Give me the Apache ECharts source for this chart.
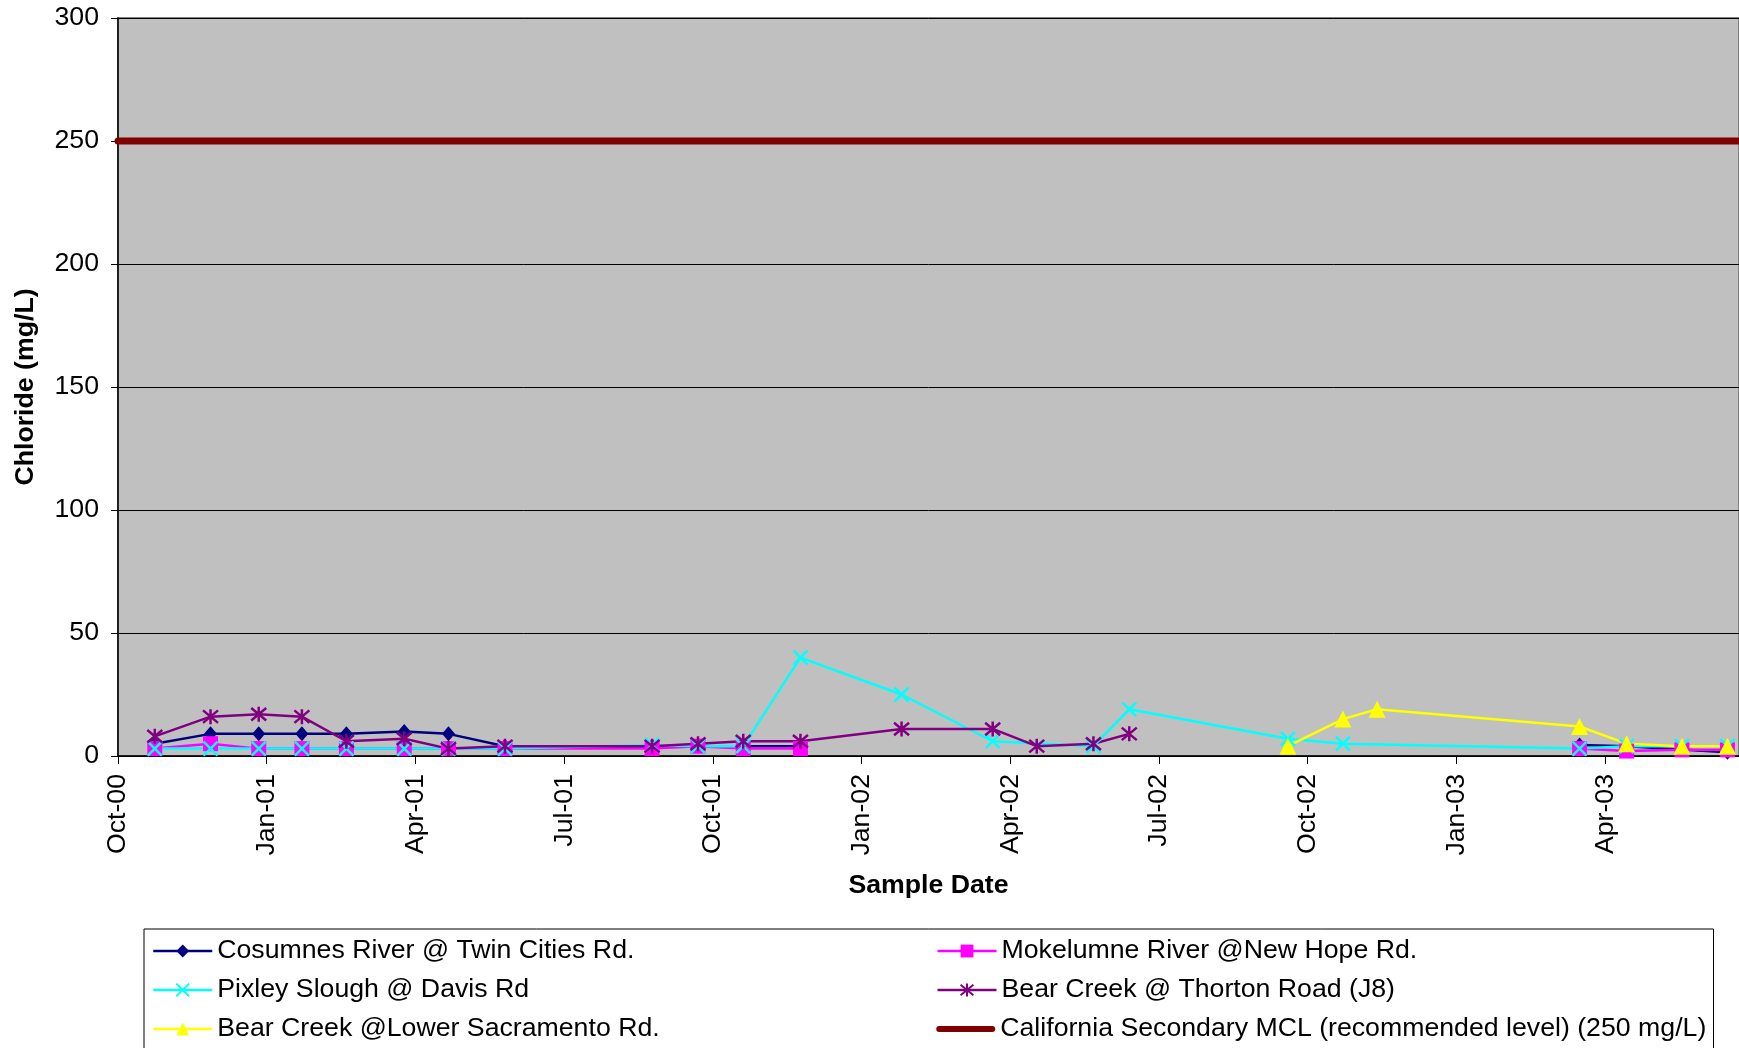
<!DOCTYPE html>
<html><head><meta charset="utf-8">
<script src="https://cdn.jsdelivr.net/npm/echarts@6/dist/echarts.min.js"></script>
<style>html,body{margin:0;padding:0;background:#fff}#c{width:1739px;height:1048px}</style>
</head><body><div id="c"></div>
<script>
const FONT = 'Arial, "Liberation Sans", sans-serif';

// Axis range and ticks
const axisStartDate = '2000-10-01';
const axisEndDate = '2003-06-22';
const monthNames = ['Jan','Feb','Mar','Apr','May','Jun','Jul','Aug','Sep','Oct','Nov','Dec'];
const yMin = 0, yMax = 300, yStep = 50;
const xStepMonths = 3;

const seriesNames = [
  'Cosumnes River @ Twin Cities Rd.',
  'Mokelumne River @New Hope Rd.',
  'Pixley Slough @ Davis Rd',
  'Bear Creek @ Thorton Road (J8)',
  'Bear Creek @Lower Sacramento Rd.',
  'California Secondary MCL (recommended level) (250 mg/L)'
];

// Data (null = gap in the record)
const cosumnesDates  = ['2000-10-24','2000-11-27','2000-12-27','2001-01-23','2001-02-18','2001-03-25','2001-04-21','2001-05-26','2001-08-25','2001-09-22','2001-10-20','2001-11-24', null,'2003-03-16','2003-04-14','2003-06-15'];
const cosumnesValues = [5, 9, 9, 9, 9, 10, 9, 4, 4, 4, 4, 4, null, 4.5, 4, 1.5];

const mokelumneDates  = ['2000-10-24','2000-11-27','2000-12-27','2001-01-23','2001-02-18','2001-03-25','2001-04-21','2001-05-26','2001-08-25','2001-09-22','2001-10-20','2001-11-24', null,'2003-03-16','2003-04-14','2003-05-18','2003-06-15'];
const mokelumneValues = [3, 5, 3, 3, 3, 3, 3, 3, 3, 4, 3, 3, null, 3, 2, 2.5, 2.5];

const pixleyDates  = ['2000-10-24','2000-11-27','2000-12-27','2001-01-23','2001-02-18','2001-03-25','2001-04-21','2001-05-26','2001-08-25','2001-09-22','2001-10-20','2001-11-24','2002-01-26','2002-03-21','2002-05-22','2002-06-13','2002-09-19','2002-10-23','2003-03-16','2003-04-14','2003-05-18','2003-06-15'];
const pixleyValues = [3, 3, 3, 3, 3, 3, 3, 3, 4.5, 4, 4, 40, 25, 6, 4, 19, 7, 5, 3, 4, 4, 4];

const bearJ8Dates  = ['2000-10-24','2000-11-27','2000-12-27','2001-01-23','2001-02-18','2001-03-25','2001-04-21','2001-05-26','2001-08-25','2001-09-22','2001-10-20','2001-11-24','2002-01-26','2002-03-21','2002-04-17','2002-05-22','2002-06-13'];
const bearJ8Values = [8, 16, 17, 16, 6, 7, 3, 4, 4, 5, 6, 6, 11, 11, 4, 5, 9];

const bearLowerSacDates  = ['2002-09-19','2002-10-23','2002-11-13','2003-03-16','2003-04-14','2003-05-18','2003-06-15'];
const bearLowerSacValues = [4, 15, 19, 12, 5, 4, 4];

const mclValue = 250;

// Helpers
function monthCoord(s) {
  const [y, mo, d] = s.split('-').map(Number);
  const dim = new Date(y, mo, 0).getDate();
  const [y0, m0] = axisStartDate.split('-').map(Number);
  return (y - y0) * 12 + (mo - m0) + (d - 1) / dim;
}
function pairs(dates, values) {
  return dates.map((d, i) => (d === null || values[i] === null) ? ['-', '-'] : [monthCoord(d), values[i]]);
}
function xLabel(v) {
  const r = Math.round(v);
  if (Math.abs(v - r) > 1e-6 || r % xStepMonths !== 0) return '';
  const [y0, m0] = axisStartDate.split('-').map(Number);
  const total = (m0 - 1) + r;
  const mon = monthNames[total % 12];
  const yr = (y0 + Math.floor(total / 12)) % 100;
  return mon + '-' + String(yr).padStart(2, '0');
}

const xMax = monthCoord(axisEndDate);
const X_PATH = 'path://M0,0L10,10M10,0L0,10';
const AST_PATH = 'path://M0,0L10,10M10,0L0,10M5,-1L5,11';

function lineSeries(name, data, color, symbol, size, markerStroke) {
  return {
    name, type: 'line', data,
    symbol, symbolSize: size,
    showAllSymbol: true,
    connectNulls: false,
    lineStyle: { color, width: 2.5 },
    itemStyle: markerStroke
      ? { color: 'rgba(0,0,0,0)', borderColor: color, borderWidth: 2.5 }
      : { color, borderColor: color, borderWidth: 0 },
    emphasis: { disabled: true },
    animation: false
  };
}

const FS = 26.7;
const chart = echarts.init(document.getElementById('c'), null, { renderer: 'canvas' });
chart.setOption({
  animation: false,
  backgroundColor: '#ffffff',
  textStyle: { fontFamily: FONT },
  grid: {
    left: 118, right: 0, top: 18, bottom: 292,
    show: true, backgroundColor: '#C0C0C0', borderColor: '#808080', borderWidth: 2
  },
  xAxis: {
    type: 'value', min: 0, max: xMax, interval: xStepMonths,
    name: 'Sample Date', nameLocation: 'middle', nameGap: 116,
    nameTextStyle: { fontFamily: FONT, fontSize: FS, fontWeight: 'bold', color: '#000' },
    axisLine: { show: true, onZero: false, lineStyle: { color: '#000', width: 1.5 } },
    axisTick: { show: true, inside: false, length: 8, lineStyle: { color: '#000', width: 1 } },
    axisLabel: { rotate: 90, margin: 18, fontFamily: FONT, fontSize: FS, color: '#000', formatter: xLabel, showMaxLabel: false },
    splitLine: { show: false }
  },
  yAxis: {
    type: 'value', min: yMin, max: yMax, interval: yStep,
    name: 'Chloride (mg/L)', nameLocation: 'middle', nameGap: 79,
    nameTextStyle: { fontFamily: FONT, fontSize: FS, fontWeight: 'bold', color: '#000' },
    axisLine: { show: true, lineStyle: { color: '#000', width: 1.5 } },
    axisTick: { show: true, inside: false, length: 7, lineStyle: { color: '#000', width: 1 } },
    axisLabel: { margin: 19, fontFamily: FONT, fontSize: FS, color: '#000' },
    splitLine: { show: true, lineStyle: { color: '#000', width: 1 } }
  },
  legend: {
    left: 144, top: 929,
    orient: 'horizontal',
    padding: [7, 2, 7, 8],
    itemGap: 9,
    itemWidth: 59, itemHeight: 16,
    backgroundColor: '#ffffff',
    borderColor: '#000', borderWidth: 1,
    lineStyle: { width: 2.5 },
    textStyle: { fontFamily: FONT, fontSize: FS, color: '#000', width: 710, overflow: 'truncate', lineHeight: 30 },
    data: [
      { name: seriesNames[0] },
      { name: seriesNames[1] },
      { name: seriesNames[2] },
      { name: seriesNames[3] },
      { name: seriesNames[4] },
      { name: seriesNames[5], icon: 'path://M5,0L95,0A5,5,0,0,1,95,10L5,10A5,5,0,0,1,5,0Z', itemStyle: { color: '#800000' } }
    ],
    selectedMode: false
  },
  tooltip: { show: false },
  series: [
    lineSeries(seriesNames[0], pairs(cosumnesDates, cosumnesValues), '#000080', 'diamond', [13, 15], false),
    lineSeries(seriesNames[1], pairs(mokelumneDates, mokelumneValues), '#FF00FF', 'rect', 15, false),
    lineSeries(seriesNames[2], pairs(pixleyDates, pixleyValues), '#00FFFF', X_PATH, 14, true),
    lineSeries(seriesNames[3], pairs(bearJ8Dates, bearJ8Values), '#800080', AST_PATH, 15, true),
    lineSeries(seriesNames[4], pairs(bearLowerSacDates, bearLowerSacValues), '#FFFF00', 'triangle', 17, false),
    {
      name: seriesNames[5], type: 'line',
      data: [[0, mclValue], [xMax, mclValue]],
      symbol: 'none',
      lineStyle: { color: '#800000', width: 7, cap: 'round' },
      itemStyle: { color: '#800000' },
      emphasis: { disabled: true },
      animation: false
    }
  ]
});
</script>
</body></html>
